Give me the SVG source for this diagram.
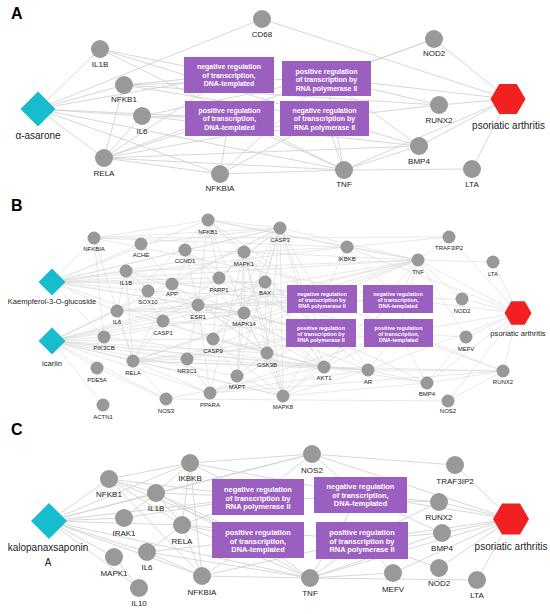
<svg xmlns="http://www.w3.org/2000/svg" width="550" height="614" viewBox="0 0 550 614">
<style>
.e{stroke:#d2d2d2;stroke-width:.9;fill:none}
.eb{stroke:#d8d8d8;stroke-width:.6;fill:none}
.g{fill:#999}
.t{font-family:"Liberation Sans",Arial,sans-serif;fill:#222;text-anchor:middle}
.s8{font-size:8px}.s6{font-size:6px}.s10{font-size:10px}.s75{font-size:7.6px}
.box{fill:#9b5fc0}
.bt{font-family:"Liberation Sans",Arial,sans-serif;font-weight:bold;fill:#fff;text-anchor:middle}
.b7{font-size:7px}.b75{font-size:7.4px}.b55{font-size:5.4px}
.drug{fill:#17bccd}
.dis{fill:#f22121}
.pl{font-family:"Liberation Sans",Arial,sans-serif;font-weight:bold;font-size:16px;fill:#000}
</style>
<rect width="550" height="614" fill="#fff"/>
<text class="pl" x="11" y="19">A</text>
<text class="pl" x="11" y="211">B</text>
<text class="pl" x="11" y="435">C</text>

<g id="edges-A" class="e">
<path d="M38 109L100 49M38 109L262 19M38 109L124 85M38 109L142 116M38 109L104 158M38 109L220 174M38 109L344 170M38 109L229 118M38 109L229 75"/>
<path d="M508 99L262 19M508 99L434 39M508 99L439 105M508 99L419 146M508 99L472 169M508 99L326 78M508 99L344 170"/>
<path d="M100 49L325 118M100 49L344 170M100 49L229 75"/>
<path d="M124 85L229 75M124 85L326 78M124 85L104 158M124 85L325 118M124 85L439 105"/>
<path d="M142 116L229 118M142 116L104 158M142 116L326 78M142 116L419 146"/>
<path d="M104 158L229 75M104 158L229 118M104 158L325 118M104 158L220 174M104 158L344 170M104 158L434 39M104 158L419 146"/>
<path d="M220 174L229 118M220 174L325 118M220 174L344 170M220 174L326 78"/>
<path d="M344 170L325 118M344 170L326 78M344 170L229 118M344 170L419 146M344 170L472 169"/>
<path d="M439 105L326 78M439 105L325 118M419 146L325 118M419 146L326 78M434 39L326 78"/>
</g>

<g id="edges-B" class="eb">
<path d="M52 282L94 238M52 282L141 244M52 282L208 220M52 282L185 250M52 282L126 271M52 282L172 284M52 282L148 291M52 282L117 311M52 282L163 321M52 282L198 305M52 282L219 278M52 282L244 252M52 282L280 228M52 282L265 282M52 282L244 313M52 282L418 260M52 282L347 247M52 282L104 337"/>
<path d="M52 341L117 311M52 341L104 337M52 341L133 361M52 341L97 368M52 341L103 405M52 341L163 321M52 341L187 359M52 341L198 305M52 341L244 313M52 341L267 353M52 341L324 367M52 341L368 370M52 341L166 399M52 341L237 376M52 341L210 393M52 341L213 339M52 341L172 284M52 341L265 282M52 341L283 396M52 341L418 260M52 341L280 228"/>
<path d="M518 313L449 237M518 313L493 262M518 313L418 260M518 313L462 299M518 313L466 337M518 313L503 371M518 313L448 401M518 313L427 383M518 313L368 370M518 313L347 247M518 313L398 299M518 313L398 333"/>
<path d="M208 220L322 299M208 220L321 333M280 228L322 299M280 228L321 333M244 252L321 333M244 252L322 299M347 247L398 299M347 247L322 299M418 260L398 299M418 260L398 333M418 260L322 299M198 305L322 299M198 305L321 333M198 305L398 299M219 278L322 299M244 313L321 333M267 353L321 333M324 367L398 299M324 367L398 333M368 370L398 333M368 370L322 299M368 370L321 333M187 359L322 299M187 359L321 333M133 361L322 299M133 361L321 333M133 361L398 333M117 311L398 299M126 271L398 333M185 250L321 333M172 284L322 299M148 291L322 299M148 291L321 333M427 383L321 333M427 383L398 333M503 371L322 299M503 371L398 333M462 299L398 299M466 337L398 333M210 393L321 333M210 393L398 333M283 396L398 299M283 396L321 333M94 238L398 299M163 321L321 333"/>
<path d="M208 220L133 361M208 220L94 238M208 220L347 247M208 220L244 252M208 220L280 228M208 220L219 278M208 220L198 305M208 220L117 311M208 220L244 313M208 220L418 260M94 238L347 247M94 238L133 361M94 238L280 228M94 238L449 237M94 238L104 337M141 244L172 284M141 244L280 228M185 250L198 305M185 250L280 228M185 250L244 252M185 250L324 367M185 250L267 353"/>
<path d="M280 228L213 339M280 228L163 321M280 228L265 282M280 228L219 278M280 228L283 396M280 228L267 353M280 228L324 367M280 228L244 313M280 228L237 376M280 228L418 260M280 228L172 284M244 252L244 313M244 252L283 396M244 252L198 305M244 252L267 353M244 252L324 367M244 252L237 376M244 252L418 260M244 252L347 247M244 252L210 393"/>
<path d="M126 271L418 260M126 271L117 311M126 271L163 321M126 271L133 361M126 271L244 313M126 271L283 396M172 284L237 376M172 284L267 353M172 284L265 282M219 278L213 339M265 282L213 339M265 282L324 367M265 282L283 396M265 282L267 353M117 311L418 260M117 311L244 313M117 311L133 361M117 311L198 305M117 311L324 367"/>
<path d="M198 305L368 370M198 305L324 367M198 305L267 353M198 305L187 359M198 305L210 393M198 305L244 313M244 313L283 396M244 313L418 260M244 313L324 367M244 313L237 376M163 321L213 339M163 321L418 260M163 321L133 361M104 337L324 367M104 337L244 313M213 339L324 367M213 339L267 353M267 353L324 367M267 353L237 376M267 353L283 396"/>
<path d="M187 359L368 370M187 359L210 393M187 359L133 361M133 361L418 260M133 361L324 367M133 361L283 396M133 361L166 399M133 361L368 370M133 361L210 393M97 368L166 399M237 376L283 396M324 367L368 370M166 399L324 367M324 367L283 396M324 367L427 383M324 367L503 371M368 370L427 383M368 370L503 371M210 393L503 371M210 393L368 370M283 396L427 383M166 399L448 401"/>
<path d="M418 260L493 262M418 260L449 237M418 260L347 247M418 260L462 299M418 260L466 337M418 260L324 367M347 247L449 237M427 383L503 371M466 337L427 383M448 401L503 371M283 396L368 370"/>
</g>

<g id="edges-C" class="e">
<path d="M49 521L109 479M49 521L190 463M49 521L156 493M49 521L124 518M49 521L182 525M49 521L147 552M49 521L114 557M49 521L139 588M49 521L202 576M49 521L312 454M49 521L310 578M49 521L258 497"/>
<path d="M511 519L455 465M511 519L439 502M511 519L442 533M511 519L439 568M511 519L477 580M511 519L312 454M511 519L393 573M511 519L360 495M511 519L362 540M511 519L310 578"/>
<path d="M312 454L455 465M190 463L312 454M109 479L156 493M109 479L182 525M109 479L202 576M109 479L190 463M109 479L258 497M109 479L258 540"/>
<path d="M156 493L124 518M156 493L190 463M156 493L258 497M156 493L258 540M156 493L182 525M156 493L310 578M156 493L312 454M190 463L182 525M190 463L202 576M190 463L258 497M190 463L360 495"/>
<path d="M182 525L202 576M182 525L147 552M182 525L258 497M182 525L258 540M182 525L310 578M182 525L362 540M124 518L258 497M147 552L202 576M147 552L258 540M147 552L310 578M114 557L139 588"/>
<path d="M202 576L310 578M202 576L258 540M202 576L362 540M310 578L258 540M310 578L362 540M310 578L360 495M310 578L393 573M310 578L477 580M310 578L442 533"/>
<path d="M312 454L360 495M312 454L258 497M360 495L439 502M360 495L442 533M362 540L442 533M362 540L439 502M362 540L439 568M393 573L362 540M439 502L258 497"/>
</g>

<g id="A-box1"><rect class="box" x="184" y="57" width="90" height="36"/><text class="bt b7" x="229" y="69">negative regulation</text><text class="bt b7" x="229" y="77.5">of transcription,</text><text class="bt b7" x="229" y="86">DNA-templated</text></g>
<g id="A-box2"><rect class="box" x="185" y="101" width="89" height="35"/><text class="bt b7" x="229.5" y="112.5">positive regulation</text><text class="bt b7" x="229.5" y="121">of transcription,</text><text class="bt b7" x="229.5" y="129.5">DNA-templated</text></g>
<g id="A-box3"><rect class="box" x="282" y="61" width="89" height="35"/><text class="bt b7" x="326.5" y="73.5">positive regulation</text><text class="bt b7" x="326.5" y="82">of transcription by</text><text class="bt b7" x="326.5" y="90.5">RNA polymerase II</text></g>
<g id="A-box4"><rect class="box" x="280" y="101" width="89" height="35"/><text class="bt b7" x="324.5" y="112.5">negative regulation</text><text class="bt b7" x="324.5" y="121">of transcription by</text><text class="bt b7" x="324.5" y="129.5">RNA polymerase II</text></g>

<g id="A-asarone"><polygon class="drug" points="38,91.5 55.5,109 38,126.5 20.5,109"/><text class="t s10" x="38" y="138.5">α-asarone</text></g>
<g id="A-psa"><polygon class="dis" points="490.5,99 499.25,84 516.75,84 525.5,99 516.75,114 499.25,114"/><text class="t s10" x="508.5" y="129">psoriatic arthritis</text></g>
<g id="A-CD68"><circle class="g" cx="262" cy="19" r="9"/><text class="t s8" x="262" y="37">CD68</text></g>
<g id="A-IL1B"><circle class="g" cx="100" cy="49" r="9"/><text class="t s8" x="100" y="67">IL1B</text></g>
<g id="A-NFKB1"><circle class="g" cx="124" cy="85" r="9"/><text class="t s8" x="124" y="102">NFKB1</text></g>
<g id="A-IL6"><circle class="g" cx="142" cy="116" r="9"/><text class="t s8" x="142" y="134">IL6</text></g>
<g id="A-RELA"><circle class="g" cx="104" cy="158" r="9"/><text class="t s8" x="104" y="176">RELA</text></g>
<g id="A-NFKBIA"><circle class="g" cx="220" cy="174" r="9"/><text class="t s8" x="220" y="191">NFKBIA</text></g>
<g id="A-NOD2"><circle class="g" cx="434" cy="39" r="9"/><text class="t s8" x="434" y="56">NOD2</text></g>
<g id="A-RUNX2"><circle class="g" cx="439" cy="105" r="9"/><text class="t s8" x="439" y="123">RUNX2</text></g>
<g id="A-BMP4"><circle class="g" cx="419" cy="146" r="9"/><text class="t s8" x="419" y="164">BMP4</text></g>
<g id="A-TNF"><circle class="g" cx="344" cy="170" r="9"/><text class="t s8" x="344" y="187">TNF</text></g>
<g id="A-LTA"><circle class="g" cx="472" cy="169" r="9"/><text class="t s8" x="472" y="187">LTA</text></g>

<g id="B-box1"><rect class="box" x="287" y="285" width="70" height="28"/><text class="bt b55" x="322" y="295.5">negative regulation</text><text class="bt b55" x="322" y="301.5">of transcription by</text><text class="bt b55" x="322" y="307.5">RNA polymerase II</text></g>
<g id="B-box2"><rect class="box" x="363" y="285" width="70" height="28"/><text class="bt b55" x="398" y="295.5">negative regulation</text><text class="bt b55" x="398" y="301.5">of transcription,</text><text class="bt b55" x="398" y="307.5">DNA-templated</text></g>
<g id="B-box3"><rect class="box" x="286" y="319" width="70" height="28"/><text class="bt b55" x="321" y="329.5">positive regulation</text><text class="bt b55" x="321" y="335.5">of transcription by</text><text class="bt b55" x="321" y="341.5">RNA polymerase II</text></g>
<g id="B-box4"><rect class="box" x="364" y="319" width="69" height="28"/><text class="bt b55" x="398.5" y="329.5">positive regulation</text><text class="bt b55" x="398.5" y="335.5">of transcription,</text><text class="bt b55" x="398.5" y="341.5">DNA-templated</text></g>

<g id="B-kaempferol"><polygon class="drug" points="52,268.5 65.5,282 52,295.5 38.5,282"/><text class="t s75" x="52" y="304">Kaempferol-3-O-glucoside</text></g>
<g id="B-icariin"><polygon class="drug" points="52,327.5 65.5,341 52,354.5 38.5,341"/><text class="t s75" x="52" y="365.5">icariin</text></g>
<g id="B-psa"><polygon class="dis" points="504.5,313 511.25,301.3 524.75,301.3 531.5,313 524.75,324.7 511.25,324.7"/><text class="t s75" x="518" y="336">psoriatic arthritis</text></g>
<g id="B-NFKBIA"><circle class="g" cx="94" cy="238" r="6.5"/><text class="t s6" x="94" y="251">NFKBIA</text></g>
<g id="B-ACHE"><circle class="g" cx="141" cy="244" r="6.5"/><text class="t s6" x="141" y="257">ACHE</text></g>
<g id="B-CCND1"><circle class="g" cx="185" cy="250" r="6.5"/><text class="t s6" x="185" y="263">CCND1</text></g>
<g id="B-NFKB1"><circle class="g" cx="208" cy="220" r="6.5"/><text class="t s6" x="208" y="234">NFKB1</text></g>
<g id="B-CASP3"><circle class="g" cx="280" cy="228" r="6.5"/><text class="t s6" x="280" y="242">CASP3</text></g>
<g id="B-MAPK1"><circle class="g" cx="244" cy="252" r="6.5"/><text class="t s6" x="244" y="266">MAPK1</text></g>
<g id="B-IKBKB"><circle class="g" cx="347" cy="247" r="6.5"/><text class="t s6" x="347" y="261">IKBKB</text></g>
<g id="B-TRAF3IP2"><circle class="g" cx="449" cy="237" r="6.5"/><text class="t s6" x="449" y="250">TRAF3IP2</text></g>
<g id="B-TNF"><circle class="g" cx="418" cy="260" r="6.5"/><text class="t s6" x="418" y="274">TNF</text></g>
<g id="B-LTA"><circle class="g" cx="493" cy="262" r="6.5"/><text class="t s6" x="493" y="276">LTA</text></g>
<g id="B-IL1B"><circle class="g" cx="126" cy="271" r="6.5"/><text class="t s6" x="126" y="285">IL1B</text></g>
<g id="B-APP"><circle class="g" cx="172" cy="284" r="6.5"/><text class="t s6" x="172" y="296">APP</text></g>
<g id="B-SOX10"><circle class="g" cx="148" cy="291" r="6.5"/><text class="t s6" x="148" y="304">SOX10</text></g>
<g id="B-PARP1"><circle class="g" cx="219" cy="278" r="6.5"/><text class="t s6" x="219" y="292">PARP1</text></g>
<g id="B-BAX"><circle class="g" cx="265" cy="282" r="6.5"/><text class="t s6" x="265" y="295">BAX</text></g>
<g id="B-IL6"><circle class="g" cx="117" cy="311" r="6.5"/><text class="t s6" x="117" y="324">IL6</text></g>
<g id="B-ESR1"><circle class="g" cx="198" cy="305" r="6.5"/><text class="t s6" x="198" y="319">ESR1</text></g>
<g id="B-MAPK14"><circle class="g" cx="244" cy="313" r="6.5"/><text class="t s6" x="244" y="326">MAPK14</text></g>
<g id="B-CASP1"><circle class="g" cx="163" cy="321" r="6.5"/><text class="t s6" x="163" y="335">CASP1</text></g>
<g id="B-PIK3CB"><circle class="g" cx="104" cy="337" r="6.5"/><text class="t s6" x="104" y="350">PIK3CB</text></g>
<g id="B-CASP9"><circle class="g" cx="213" cy="339" r="6.5"/><text class="t s6" x="213" y="353">CASP9</text></g>
<g id="B-GSK3B"><circle class="g" cx="267" cy="353" r="6.5"/><text class="t s6" x="267" y="367">GSK3B</text></g>
<g id="B-NR3C1"><circle class="g" cx="187" cy="359" r="6.5"/><text class="t s6" x="187" y="373">NR3C1</text></g>
<g id="B-RELA"><circle class="g" cx="133" cy="361" r="6.5"/><text class="t s6" x="133" y="375">RELA</text></g>
<g id="B-PDE5A"><circle class="g" cx="97" cy="368" r="6.5"/><text class="t s6" x="97" y="382">PDE5A</text></g>
<g id="B-MAPT"><circle class="g" cx="237" cy="376" r="6.5"/><text class="t s6" x="237" y="389">MAPT</text></g>
<g id="B-AKT1"><circle class="g" cx="324" cy="367" r="6.5"/><text class="t s6" x="324" y="380">AKT1</text></g>
<g id="B-AR"><circle class="g" cx="368" cy="370" r="6.5"/><text class="t s6" x="368" y="384">AR</text></g>
<g id="B-PPARA"><circle class="g" cx="210" cy="393" r="6.5"/><text class="t s6" x="210" y="407">PPARA</text></g>
<g id="B-MAPK8"><circle class="g" cx="283" cy="396" r="6.5"/><text class="t s6" x="283" y="409">MAPK8</text></g>
<g id="B-ACTN1"><circle class="g" cx="103" cy="405" r="6.5"/><text class="t s6" x="103" y="419">ACTN1</text></g>
<g id="B-NOS3"><circle class="g" cx="166" cy="399" r="6.5"/><text class="t s6" x="166" y="413">NOS3</text></g>
<g id="B-NOD2"><circle class="g" cx="462" cy="299" r="6.5"/><text class="t s6" x="462" y="313">NOD2</text></g>
<g id="B-MEFV"><circle class="g" cx="466" cy="337" r="6.5"/><text class="t s6" x="466" y="351">MEFV</text></g>
<g id="B-RUNX2"><circle class="g" cx="503" cy="371" r="6.5"/><text class="t s6" x="503" y="384">RUNX2</text></g>
<g id="B-BMP4"><circle class="g" cx="427" cy="383" r="6.5"/><text class="t s6" x="427" y="396">BMP4</text></g>
<g id="B-NOS2"><circle class="g" cx="448" cy="401" r="6.5"/><text class="t s6" x="448" y="413">NOS2</text></g>

<g id="C-box1"><rect class="box" x="212" y="479" width="92" height="36"/><text class="bt b75" x="258" y="492">negative regulation</text><text class="bt b75" x="258" y="500.5">of transcription by</text><text class="bt b75" x="258" y="509">RNA polymerase II</text></g>
<g id="C-box2"><rect class="box" x="212" y="522" width="92" height="36"/><text class="bt b75" x="258" y="535">positive regulation</text><text class="bt b75" x="258" y="543.5">of transcription,</text><text class="bt b75" x="258" y="552">DNA-templated</text></g>
<g id="C-box3"><rect class="box" x="314" y="477" width="93" height="36"/><text class="bt b75" x="360.5" y="489">negative regulation</text><text class="bt b75" x="360.5" y="497.5">of transcription,</text><text class="bt b75" x="360.5" y="506">DNA-templated</text></g>
<g id="C-box4"><rect class="box" x="316" y="522" width="92" height="37"/><text class="bt b75" x="362" y="535">positive regulation</text><text class="bt b75" x="362" y="543.5">of transcription by</text><text class="bt b75" x="362" y="552">RNA polymerase II</text></g>

<g id="C-kalopanaxsaponin"><polygon class="drug" points="49,503 67,521 49,539 31,521"/><text class="t s10" x="48" y="550.5">kalopanaxsaponin</text><text class="t s10" x="48" y="566">A</text></g>
<g id="C-psa"><polygon class="dis" points="493,519 502,503.5 520,503.5 529,519 520,534.5 502,534.5"/><text class="t s10" x="511" y="549.5">psoriatic arthritis</text></g>
<g id="C-IKBKB"><circle class="g" cx="190" cy="463" r="9"/><text class="t s8" x="190" y="481">IKBKB</text></g>
<g id="C-NFKB1"><circle class="g" cx="109" cy="479" r="9"/><text class="t s8" x="109" y="497">NFKB1</text></g>
<g id="C-IL1B"><circle class="g" cx="156" cy="493" r="9"/><text class="t s8" x="156" y="511">IL1B</text></g>
<g id="C-IRAK1"><circle class="g" cx="124" cy="518" r="9"/><text class="t s8" x="124" y="536">IRAK1</text></g>
<g id="C-RELA"><circle class="g" cx="182" cy="525" r="9"/><text class="t s8" x="182" y="544">RELA</text></g>
<g id="C-IL6"><circle class="g" cx="147" cy="552" r="9"/><text class="t s8" x="147" y="570">IL6</text></g>
<g id="C-MAPK1"><circle class="g" cx="114" cy="557" r="9"/><text class="t s8" x="114" y="576">MAPK1</text></g>
<g id="C-IL10"><circle class="g" cx="139" cy="588" r="9"/><text class="t s8" x="139" y="606">IL10</text></g>
<g id="C-NFKBIA"><circle class="g" cx="202" cy="576" r="9"/><text class="t s8" x="202" y="595">NFKBIA</text></g>
<g id="C-NOS2"><circle class="g" cx="312" cy="454" r="9"/><text class="t s8" x="312" y="473">NOS2</text></g>
<g id="C-TRAF3IP2"><circle class="g" cx="455" cy="465" r="9"/><text class="t s8" x="455" y="484">TRAF3IP2</text></g>
<g id="C-RUNX2"><circle class="g" cx="439" cy="502" r="9"/><text class="t s8" x="439" y="520">RUNX2</text></g>
<g id="C-BMP4"><circle class="g" cx="442" cy="533" r="9"/><text class="t s8" x="442" y="551">BMP4</text></g>
<g id="C-NOD2"><circle class="g" cx="439" cy="568" r="9"/><text class="t s8" x="439" y="586">NOD2</text></g>
<g id="C-MEFV"><circle class="g" cx="393" cy="573" r="9"/><text class="t s8" x="393" y="592">MEFV</text></g>
<g id="C-TNF"><circle class="g" cx="310" cy="578" r="9"/><text class="t s8" x="310" y="596">TNF</text></g>
<g id="C-LTA"><circle class="g" cx="477" cy="580" r="9"/><text class="t s8" x="477" y="598">LTA</text></g>
</svg>
